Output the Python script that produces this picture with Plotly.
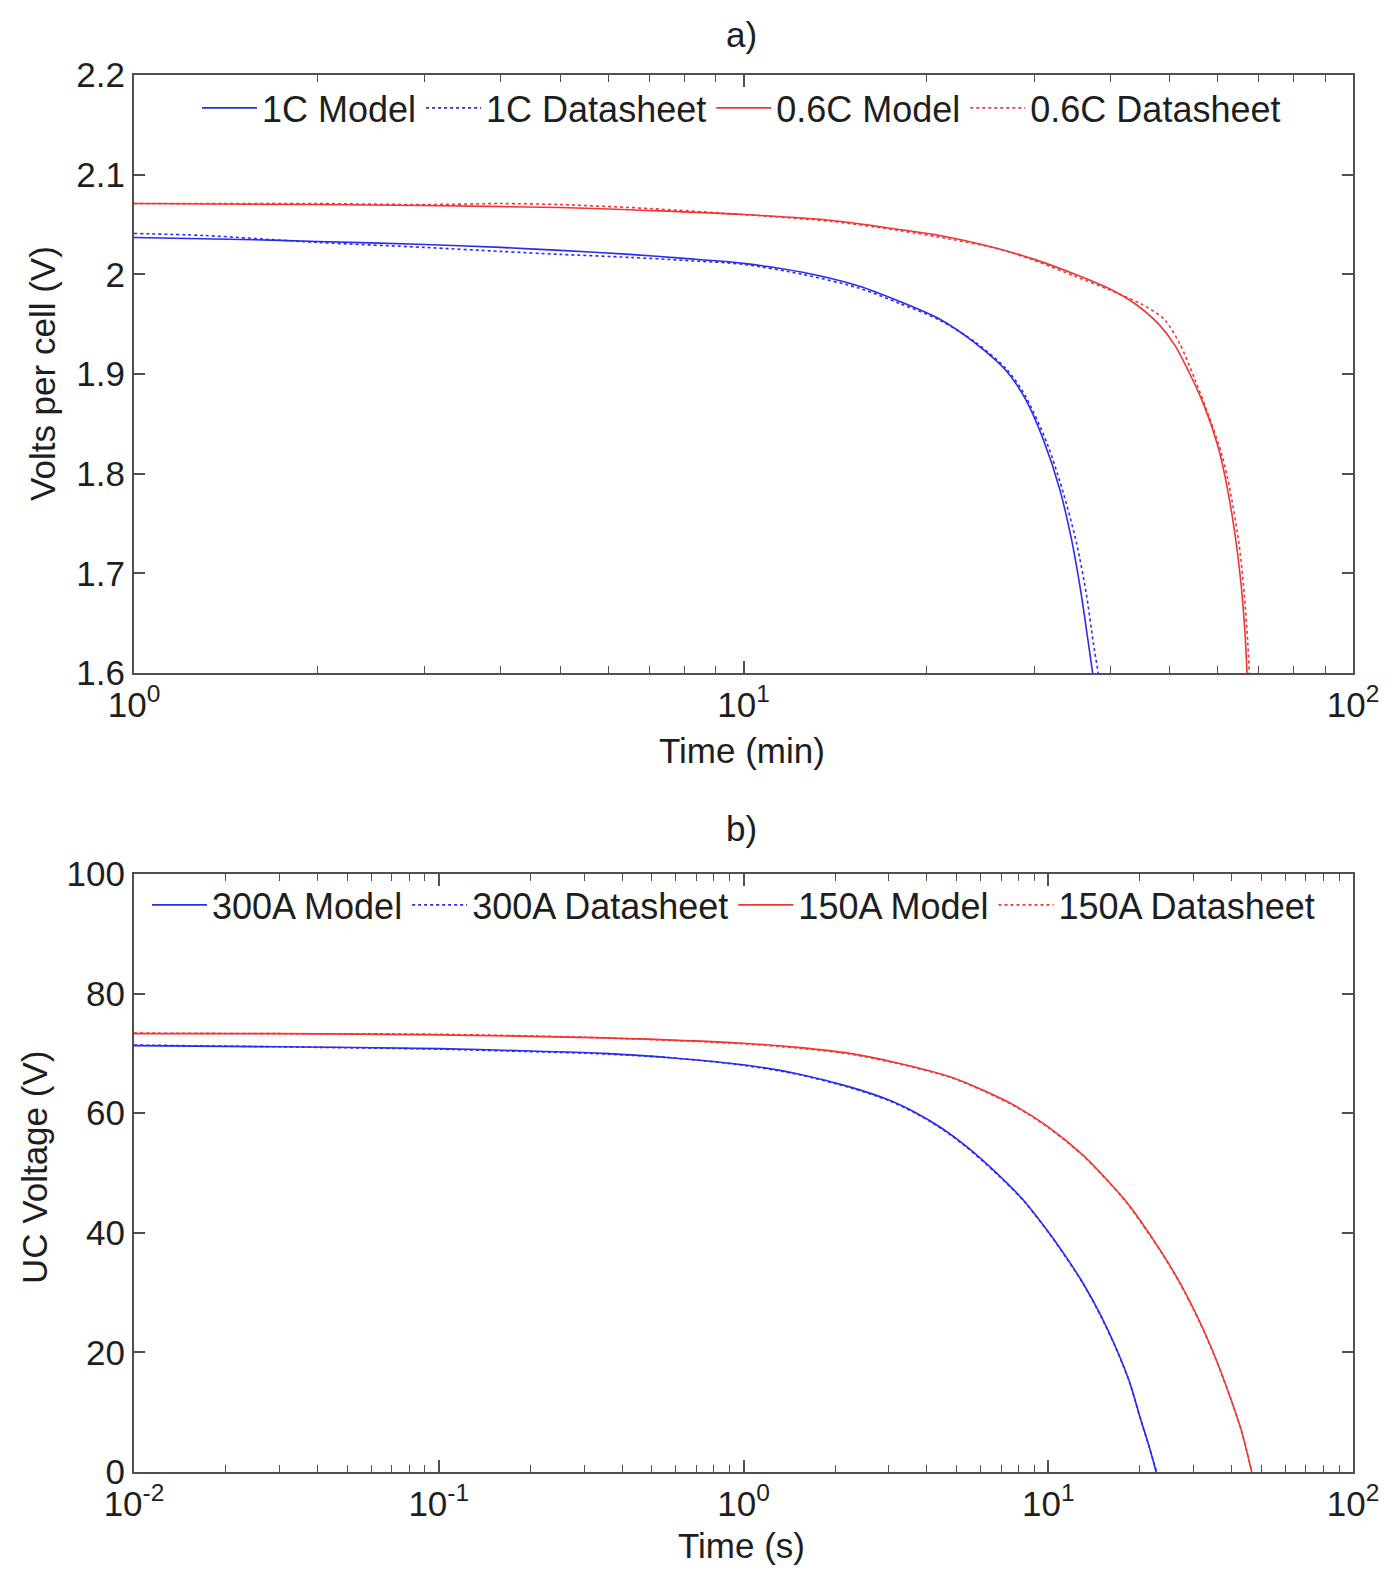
import plotly.graph_objects as go

# ---- a) lead-acid cell discharge (time in minutes) ----
t_1c_model = [1, 1.5, 2, 3, 4, 5, 6.5, 8, 10, 12.5, 15.5, 18, 21, 24, 27, 29, 31, 33, 34.5, 35.8, 36.8, 37.4]
v_1c_model = [2.037, 2.035, 2.033, 2.030, 2.027, 2.024, 2.020, 2.016, 2.011, 2.002, 1.988, 1.973,
              1.955, 1.931, 1.903, 1.875, 1.835, 1.785, 1.735, 1.680, 1.630, 1.600]
t_1c_data = [1, 1.3, 2, 3, 4, 5, 6.5, 8, 10, 12.5, 15.5, 18, 21, 24, 27, 29, 31.5, 33.5, 35.2, 36.5, 37.5, 38.2]
v_1c_data = [2.041, 2.039, 2.032, 2.027, 2.023, 2.020, 2.017, 2.014, 2.010, 2.000, 1.986, 1.971,
             1.954, 1.932, 1.905, 1.878, 1.830, 1.780, 1.730, 1.680, 1.630, 1.600]

t_06c_model = [1, 2, 3, 5, 7, 10, 14, 18, 21, 25, 30, 35, 40, 44, 48, 51, 54, 57, 60, 62, 64, 65.5, 66.5, 67]
v_06c_model = [2.071, 2.070, 2.069, 2.067, 2.064, 2.060, 2.054, 2.045, 2.039, 2.029, 2.015, 2.000,
               1.985, 1.970, 1.950, 1.929, 1.900, 1.868, 1.828, 1.790, 1.740, 1.690, 1.640, 1.600]
t_06c_data = [1, 2, 3, 4, 5, 7, 10, 14, 18, 22, 26, 30, 35, 40, 45, 49, 52, 55, 58, 61, 63, 65, 66.3, 67.2, 67.6]
v_06c_data = [2.071, 2.071, 2.070, 2.071, 2.070, 2.066, 2.060, 2.053, 2.044, 2.035, 2.026, 2.014,
              1.998, 1.984, 1.970, 1.955, 1.930, 1.895, 1.858, 1.818, 1.780, 1.730, 1.680, 1.630, 1.600]

# ---- b) ultracapacitor discharge (time in seconds) ----
t_300_model = [0.01, 0.03, 0.1, 0.2, 0.35, 0.6, 1, 1.5, 2.23, 3.0, 3.7, 4.5, 5.4, 6.7, 8.28,
               10.1, 11.5, 13.0, 14.9, 16.8, 18.5, 20.0, 21.4, 22.6]
v_300_model = [71.3, 71.1, 70.8, 70.4, 70.0, 69.2, 68.1, 66.6, 64.4, 62.2, 60.0, 57.4, 54.4, 50.2, 45.5,
               39.9, 35.8, 31.6, 26.1, 20.4, 15.0, 9.2, 4.4, 0]
t_300_data = [0.01, 0.03, 0.1, 0.2, 0.35, 0.6, 1, 1.5, 2.23, 3.0, 3.7, 4.5, 5.4, 6.7, 8.28,
              10.1, 11.5, 13.0, 14.9, 16.8, 18.5, 20.0, 21.4, 22.7]
v_300_data = [71.4, 71.1, 70.7, 70.3, 69.9, 69.2, 68.0, 66.5, 64.3, 62.1, 59.9, 57.3, 54.3, 50.1, 45.4,
              39.8, 35.7, 31.5, 26.0, 20.3, 14.9, 9.1, 4.3, 0]

t_150_model = [0.01, 0.03, 0.1, 0.35, 1, 1.5, 2.23, 3.2, 4.76, 6.2, 7.87, 10, 13.0, 15.5, 18.1,
               23.3, 27, 31.5, 35.5, 39.5, 43, 46.5]
v_150_model = [73.3, 73.3, 73.1, 72.6, 71.7, 71.0, 70.0, 68.4, 66.1, 63.7, 61.1, 57.7, 53.0, 49.0, 45.1,
               37.1, 31.7, 25.0, 18.9, 12.6, 7.0, 0]
t_150_data = [0.01, 0.03, 0.1, 0.35, 1, 1.5, 2.23, 3.2, 4.76, 6.2, 7.87, 10, 13.0, 15.5, 18.1,
              23.3, 27, 31.5, 35.5, 39.5, 43, 46.6]
v_150_data = [73.4, 73.3, 73.2, 72.6, 71.6, 70.9, 69.9, 68.3, 66.0, 63.6, 61.0, 57.6, 52.9, 48.9, 45.0,
              37.0, 31.6, 24.9, 18.8, 12.5, 6.9, 0]

# ---- axis ticks ----
xa_ticks = [1, 10, 100]
xa_labels = ["10<sup>0</sup>", "10<sup>1</sup>", "10<sup>2</sup>"]
ya_ticks = [1.6, 1.7, 1.8, 1.9, 2.0, 2.1, 2.2]
ya_labels = ["1.6", "1.7", "1.8", "1.9", "2", "2.1", "2.2"]
xb_ticks = [0.01, 0.1, 1, 10, 100]
xb_labels = ["10<sup>-2</sup>", "10<sup>-1</sup>", "10<sup>0</sup>", "10<sup>1</sup>", "10<sup>2</sup>"]
yb_ticks = [0, 20, 40, 60, 80, 100]
yb_labels = ["0", "20", "40", "60", "80", "100"]

BLUE = "#2b2bf0"
RED = "#f03535"
AXIS = "#505050"
TEXT = "#1e1e1e"
FONT = "Liberation Sans"
FS = 35

W, H = 1394, 1575
L, R = 134, 1353
A_TOP, A_BOT = 75, 673
B_TOP, B_BOT = 874, 1472


def px(x):
    return x / W


def py(y):
    return 1 - y / H


def minor_vals(lo_exp, hi_exp):
    vals = []
    for e in range(lo_exp, hi_exp):
        for m in range(2, 10):
            vals.append(m * 10 ** e)
    return vals


fig = go.Figure()

line_w = 1.6
series = [
    (t_1c_model, v_1c_model, "1C Model", BLUE, "solid", "x", "y", "legend"),
    (t_1c_data, v_1c_data, "1C Datasheet", BLUE, "dot", "x", "y", "legend"),
    (t_06c_model, v_06c_model, "0.6C Model", RED, "solid", "x", "y", "legend"),
    (t_06c_data, v_06c_data, "0.6C Datasheet", RED, "dot", "x", "y", "legend"),
    (t_300_model, v_300_model, "300A Model", BLUE, "solid", "x2", "y2", "legend2"),
    (t_300_data, v_300_data, "300A Datasheet", BLUE, "dot", "x2", "y2", "legend2"),
    (t_150_model, v_150_model, "150A Model", RED, "solid", "x2", "y2", "legend2"),
    (t_150_data, v_150_data, "150A Datasheet", RED, "dot", "x2", "y2", "legend2"),
]
for xs, ys, name, color, dash, xa, ya, lg in series:
    fig.add_trace(go.Scatter(x=xs, y=ys, mode="lines", name=name,
                             line=dict(color=color, width=line_w, dash=dash, shape="spline", smoothing=0.8),
                             xaxis=xa, yaxis=ya, legend=lg))

common_axis = dict(showline=True, linecolor=AXIS, linewidth=2, mirror="ticks", ticks="inside",
                   tickcolor=AXIS, tickwidth=1.5, showgrid=False, zeroline=False, automargin=False,
                   tickfont=dict(family=FONT, size=FS, color=TEXT))

legend_common = dict(orientation="h", xanchor="left", yanchor="top", bgcolor="rgba(0,0,0,0)",
                     borderwidth=0, itemwidth=55, font=dict(family=FONT, size=36, color=TEXT))

fig.update_layout(
    width=W, height=H,
    margin=dict(l=0, r=0, t=0, b=0, autoexpand=False),
    paper_bgcolor="white", plot_bgcolor="white",
    font=dict(family=FONT, size=FS, color=TEXT),
    xaxis=dict(type="log", range=[0, 2], domain=[px(L), px(R)], anchor="y",
               tickvals=xa_ticks, ticktext=xa_labels, ticklen=12,
               minor=dict(tickvals=minor_vals(0, 2), ticks="inside", ticklen=7, tickcolor=AXIS, tickwidth=1.2),
               **common_axis),
    yaxis=dict(range=[1.6, 2.2], domain=[py(A_BOT), py(A_TOP)], anchor="x",
               tickvals=ya_ticks, ticktext=ya_labels, ticklen=11, **common_axis),
    xaxis2=dict(type="log", range=[-2, 2], domain=[px(L), px(R)], anchor="y2",
                tickvals=xb_ticks, ticktext=xb_labels, ticklen=12,
                minor=dict(tickvals=minor_vals(-2, 2), ticks="inside", ticklen=7, tickcolor=AXIS, tickwidth=1.2),
                **common_axis),
    yaxis2=dict(range=[0, 100], domain=[py(B_BOT), py(B_TOP)], anchor="x2",
                tickvals=yb_ticks, ticktext=yb_labels, ticklen=11, **common_axis),
    legend=dict(x=px(197), y=py(78), **legend_common),
    legend2=dict(x=px(147), y=py(875), **legend_common),
    showlegend=True,
)

annotations = [
    dict(text="a)", x=px(742), y=py(34)),
    dict(text="b)", x=px(742), y=py(828)),
    dict(text="Time (min)", x=px(742), y=py(750)),
    dict(text="Time (s)", x=px(742), y=py(1545)),
    dict(text="Volts per cell (V)", x=px(42), y=py(374), textangle=-90),
    dict(text="UC Voltage (V)", x=px(34), y=py(1168), textangle=-90),
]
for a in annotations:
    fig.add_annotation(xref="paper", yref="paper", showarrow=False, xanchor="center", yanchor="middle",
                       font=dict(family=FONT, size=FS, color=TEXT), **a)

fig.write_html("out.html")
